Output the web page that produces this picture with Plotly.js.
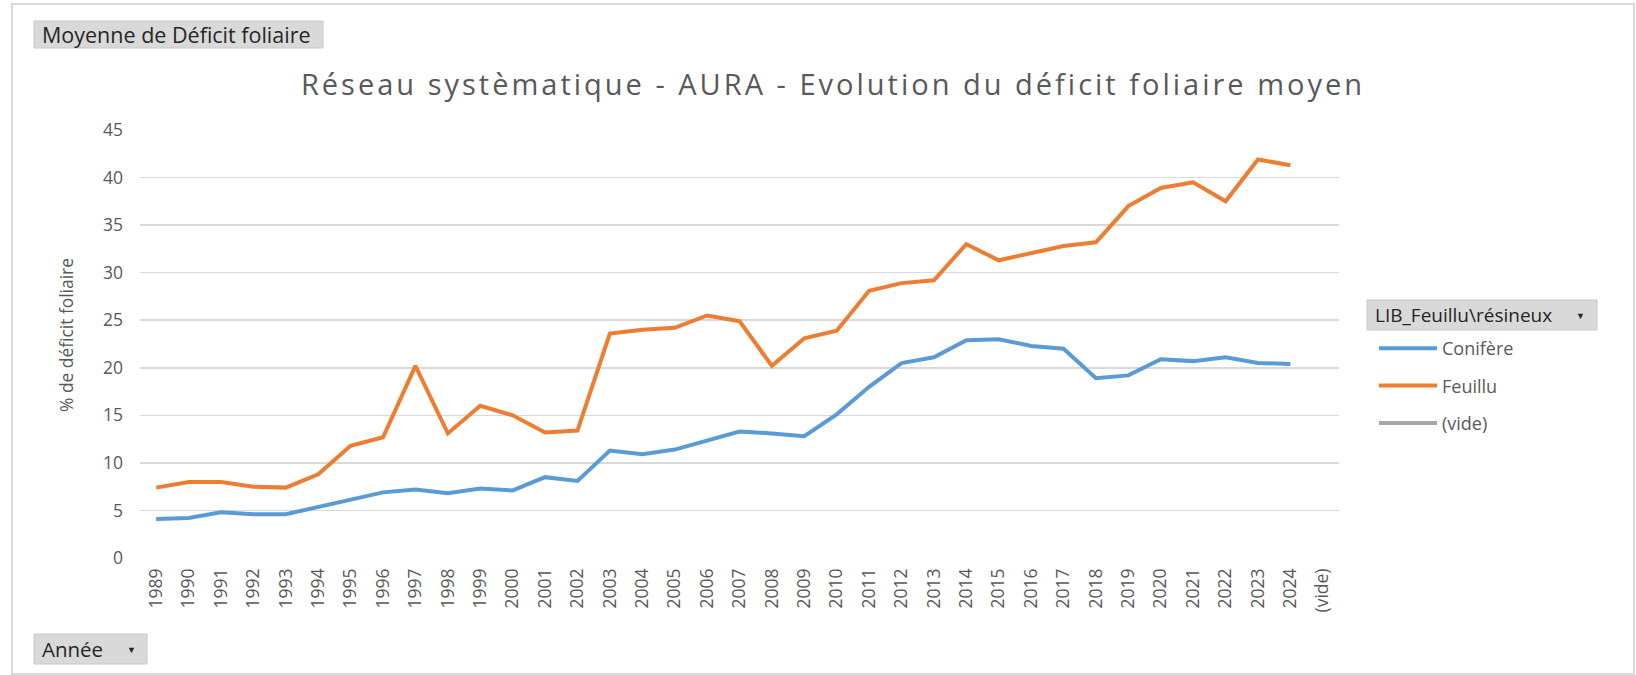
<!DOCTYPE html>
<html>
<head>
<meta charset="utf-8">
<script src="https://cdn.plot.ly/plotly-3.0.1.min.js"></script>
<style>
  html, body { margin: 0; padding: 0; background: #fff; }
  #chart { width: 1636px; height: 675px; }
  /* the Excel title is drawn with wide letter spacing */
  #chart .gtitle { letter-spacing: 3px; }
</style>
</head>
<body>
<div id="chart"></div>
<script>
// categories on the x axis (Excel pivot keeps an empty "(vide)" slot)
var annees = ["1989", "1990", "1991", "1992", "1993", "1994", "1995", "1996", "1997", "1998",
              "1999", "2000", "2001", "2002", "2003", "2004", "2005", "2006", "2007", "2008",
              "2009", "2010", "2011", "2012", "2013", "2014", "2015", "2016", "2017", "2018",
              "2019", "2020", "2021", "2022", "2023", "2024", "(vide)"];

// mean foliar deficit (%)
var conifere = [4.1, 4.2, 4.8, 4.6, 4.6, 5.4, 6.2, 6.9, 7.2, 6.8,
                7.3, 7.1, 8.5, 8.1, 11.3, 10.9, 11.4, 12.4, 13.3, 13.1,
                12.8, 15.1, 18.0, 20.5, 21.1, 22.9, 23.0, 22.3, 22.0, 18.9,
                19.2, 20.9, 20.7, 21.1, 20.5, 20.4, null];
var feuillu = [7.4, 8.0, 8.0, 7.5, 7.4, 8.8, 11.8, 12.7, 20.2, 13.1,
               16.0, 15.0, 13.2, 13.4, 23.6, 24.0, 24.2, 25.5, 24.9, 20.2,
               23.1, 23.9, 28.1, 28.9, 29.2, 33.0, 31.3, 32.1, 32.8, 33.2,
               37.0, 38.9, 39.5, 37.5, 41.9, 41.3, null];
var vide = annees.map(function () { return null; });

var grey = "#595959";
var font = "Open Sans, Noto Sans, sans-serif";

var traces = [
  {x: annees, y: conifere, name: "Conifère", type: "scatter", mode: "lines",
   line: {color: "#5B9BD5", width: 4}, legendgroup: "a"},
  {x: annees, y: feuillu, name: "Feuillu", type: "scatter", mode: "lines",
   line: {color: "#ED7D31", width: 4}, legendgroup: "b"},
  {x: annees, y: vide, name: "(vide)", type: "scatter", mode: "lines",
   line: {color: "#A5A5A5", width: 4}, legendgroup: "c", showlegend: true}
];

// pixel -> paper helpers (plot area is 140..1339 x 130..558)
function px(x) { return (x - 140) / 1199; }
function py(y) { return (558 - y) / 428; }

// grey pivot-field buttons
function bouton(x0, y0, x1, y1) {
  return {type: "rect", xref: "paper", yref: "paper", layer: "above",
          x0: px(x0), x1: px(x1), y0: py(y1), y1: py(y0),
          fillcolor: "#d9d9d9", line: {color: "#c8c8c8", width: 1}};
}
function texte(x, y, t, size, anchor) {
  return {xref: "paper", yref: "paper", x: px(x), y: py(y), xanchor: anchor || "left",
          yanchor: "middle", text: t, showarrow: false,
          font: {size: size, color: "#262626"}};
}

var layout = {
  width: 1636, height: 675,
  margin: {l: 140, r: 297, t: 130, b: 117},
  paper_bgcolor: "#ffffff", plot_bgcolor: "#ffffff",
  font: {family: font, color: grey, size: 16},
  title: {text: "Réseau systèmatique - AURA - Evolution du déficit foliaire moyen",
          font: {family: font, size: 29, color: grey},
          xref: "container", yref: "container", x: 833 / 1636, xanchor: "center",
          y: 1 - 85 / 675, yanchor: "middle"},
  xaxis: {type: "category", categoryorder: "array", categoryarray: annees,
          range: [-0.5, 36.5], tickangle: -90, showgrid: false, zeroline: false,
          showline: false, ticks: "", ticklabelstandoff: 6,
          tickfont: {size: 17.5, color: grey}},
  yaxis: {range: [0, 45], dtick: 5, tick0: 0, showgrid: true, gridcolor: "#d9d9d9",
          gridwidth: 1.5, zeroline: false, showline: false, ticks: "",
          ticklabelstandoff: 16, tickfont: {size: 17.5, color: grey}},
  legend: {x: px(1374), xanchor: "left", y: py(330), yanchor: "top", itemwidth: 58,
           font: {size: 18, color: grey}, tracegroupgap: 11, bgcolor: "rgba(0,0,0,0)"},
  shapes: [
    {type: "rect", xref: "paper", yref: "paper", layer: "below",
     x0: px(12), x1: px(1634), y0: py(674), y1: py(4),
     line: {color: "#d9d9d9", width: 2}, fillcolor: "rgba(0,0,0,0)"},
    bouton(34, 21, 323, 48),
    bouton(34, 634, 147, 664),
    bouton(1367, 300, 1597, 330)
  ],
  annotations: [
    {xref: "paper", yref: "paper", x: px(66), y: py(335), xanchor: "center", yanchor: "middle",
     text: "% de déficit foliaire", textangle: -90, showarrow: false,
     font: {size: 17.4, color: grey}},
    texte(40, 34.5, "Moyenne de Déficit foliaire", 21.5),
    texte(40, 649, "Année", 20.5),
    texte(131, 649, "▼", 9, "center"),
    texte(1373, 315, "LIB_Feuillu\\résineux", 19),
    texte(1580, 315, "▼", 9, "center")
  ]
};

Plotly.newPlot("chart", traces, layout, {displayModeBar: false, staticPlot: true});
</script>
</body>
</html>
